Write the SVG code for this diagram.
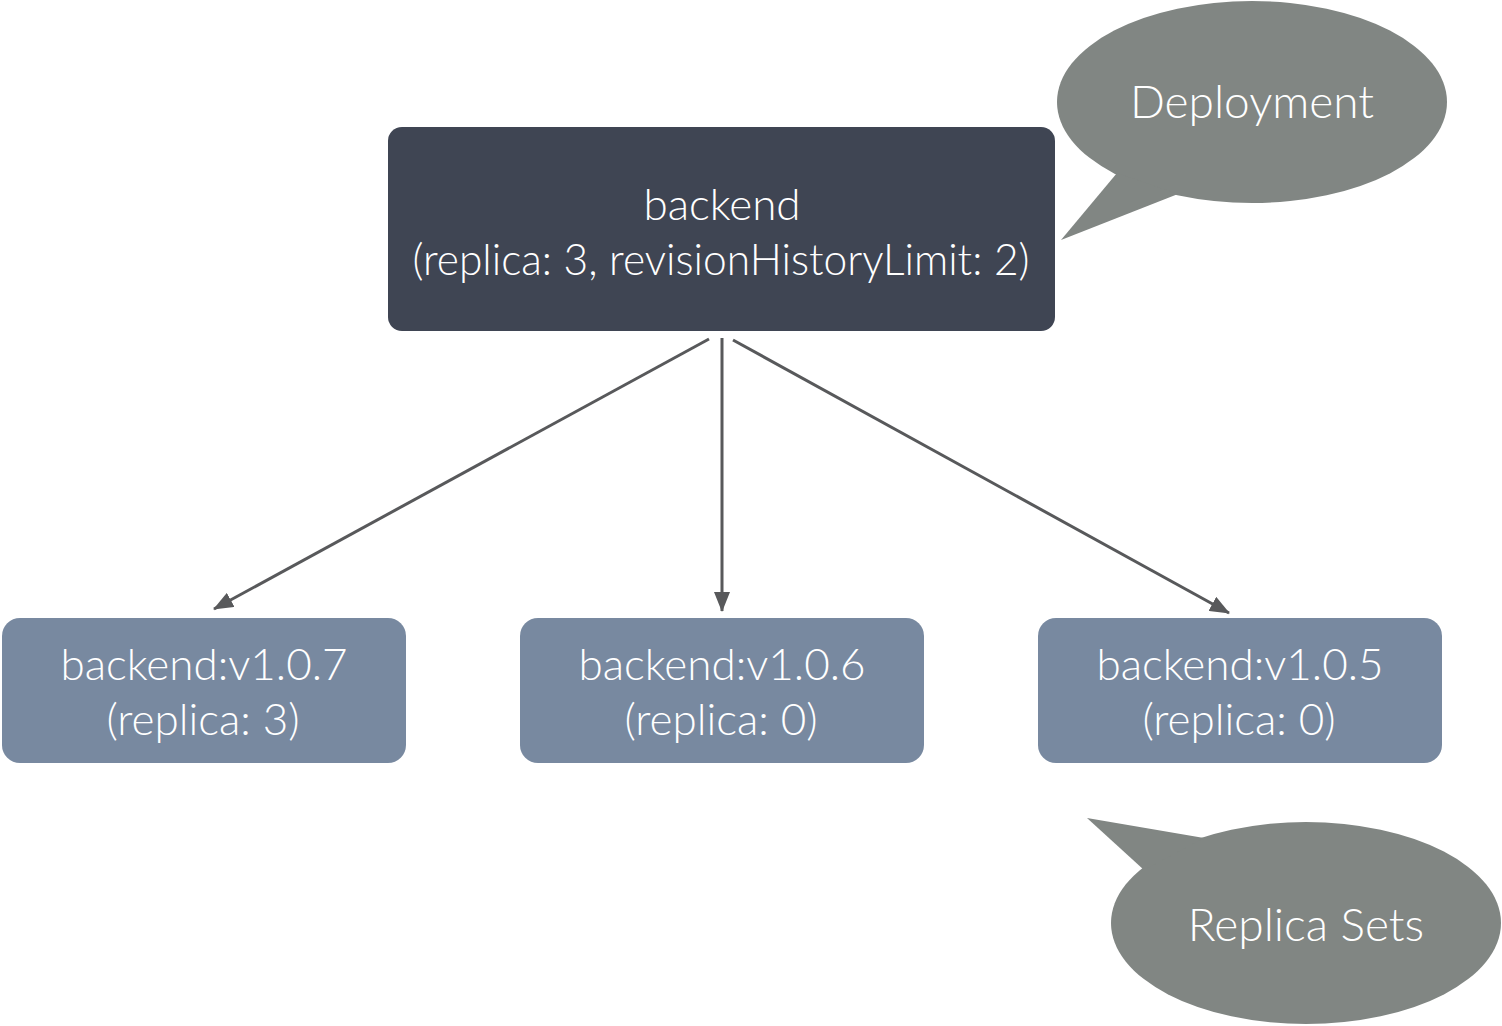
<svg xmlns="http://www.w3.org/2000/svg" width="1502" height="1026" viewBox="0 0 1502 1026">
<style>
  .lbl { font-family: Lato, "Open Sans", "Liberation Sans", sans-serif; font-weight: 300; fill: #ffffff; text-anchor: middle; }
  .big { font-size: 44px; }
  .bub { fill: #818683; }
  .rs { fill: #7889a0; }
  .conn { stroke: #58595b; stroke-width: 3; fill: none; }
</style>
<defs>
  <marker id="ah" markerUnits="userSpaceOnUse" markerWidth="20" markerHeight="16" viewBox="0 0 20 16" refX="19" refY="8" orient="auto">
    <path d="M0,0 L20,8 L0,16 Z" fill="#58595b"/>
  </marker>
</defs>
<rect width="1502" height="1026" fill="#ffffff"/>

<g id="bubble-deployment">
  <ellipse class="bub" cx="1252" cy="102" rx="195" ry="101"/>
  <polygon class="bub" points="1117,173 1061,240 1178,194"/>
  <text class="lbl" x="1252" y="118" font-size="46">Deployment</text>
</g>

<g id="bubble-replicasets">
  <ellipse class="bub" cx="1306" cy="923" rx="195" ry="101"/>
  <polygon class="bub" points="1144,870 1087,818 1204,838"/>
  <text class="lbl" x="1306" y="941" font-size="46">Replica Sets</text>
</g>

<g id="node-backend">
  <rect x="388" y="127" width="667" height="204" rx="14" fill="#3f4553"/>
  <text class="lbl big" x="722" y="220">backend</text>
  <text class="lbl" x="721" y="275" font-size="42.5">(replica: 3, revisionHistoryLimit: 2)</text>
</g>

<g id="node-v107">
  <rect class="rs" x="2" y="618" width="404" height="145" rx="18"/>
  <text class="lbl big" x="204" y="680">backend:v1.0.7</text>
  <text class="lbl big" x="203" y="735">(replica: 3)</text>
</g>

<g id="node-v106">
  <rect class="rs" x="520" y="618" width="404" height="145" rx="18"/>
  <text class="lbl big" x="722" y="680">backend:v1.0.6</text>
  <text class="lbl big" x="721" y="735">(replica: 0)</text>
</g>

<g id="node-v105">
  <rect class="rs" x="1038" y="618" width="404" height="145" rx="18"/>
  <text class="lbl big" x="1240" y="680">backend:v1.0.5</text>
  <text class="lbl big" x="1239" y="735">(replica: 0)</text>
</g>

<g id="connectors">
  <line class="conn" x1="709" y1="339" x2="214" y2="609" marker-end="url(#ah)"/>
  <line class="conn" x1="722" y1="338" x2="722" y2="611" marker-end="url(#ah)"/>
  <line class="conn" x1="733" y1="340" x2="1229" y2="613" marker-end="url(#ah)"/>
</g>
</svg>
